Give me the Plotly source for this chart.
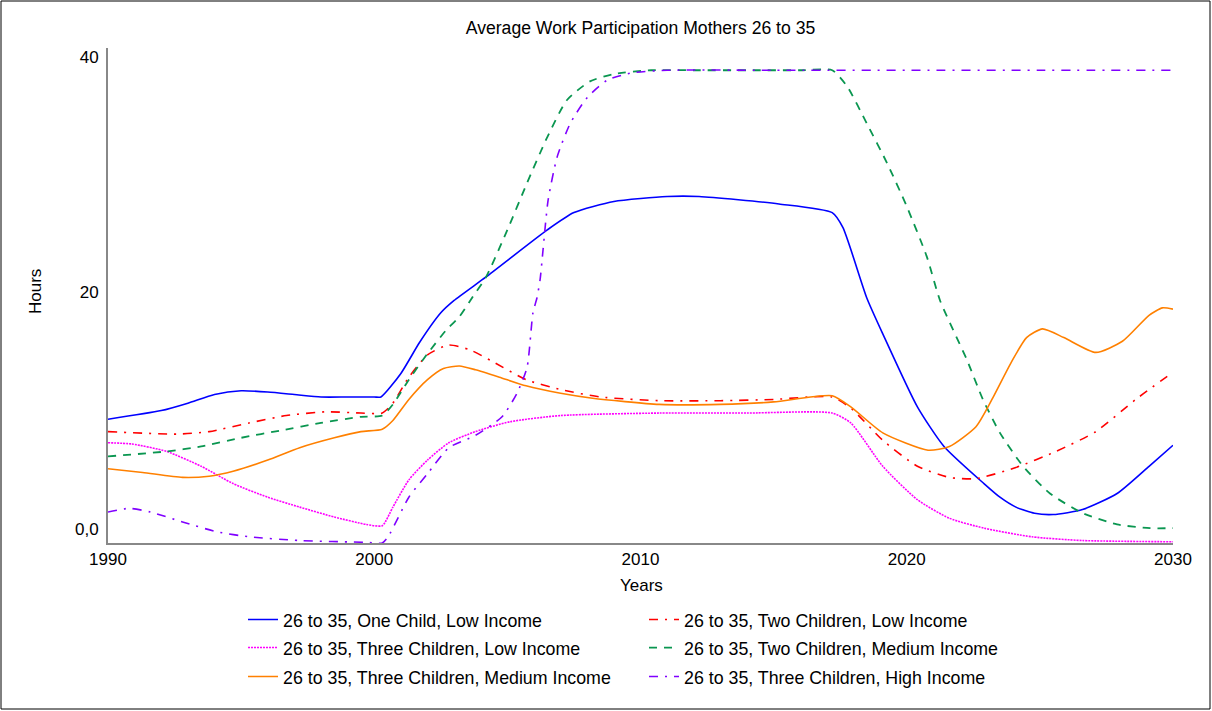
import plotly.graph_objects as go

# ---- data (years, hours) ----
blue_x = [1990, 1992, 1993, 1994, 1995, 1996, 1997, 1998, 1999, 2000, 2000.25, 2001, 2001.7, 2002.5, 2003,
          2004.2, 2006.5, 2007.5, 2009, 2011, 2012.2, 2015.2, 2017.2, 2017.6, 2018.5, 2019.1, 2020.4,
          2021.4, 2022.9, 2023.5, 2024.1, 2024.8, 2025.5, 2026.6, 2027.9, 2029.1, 2030]
blue_y = [10.0, 10.7, 11.3, 12.0, 12.3, 12.2, 12.0, 11.8, 11.8, 11.8, 11.8, 13.7, 16.2, 18.6, 19.6,
          21.5, 25.3, 26.7, 27.6, 28.0, 28.0, 27.4, 26.7, 25.5, 19.8, 16.9, 11.0,
          7.8, 4.8, 3.7, 2.9, 2.4, 2.3, 2.7, 4.0, 6.2, 7.9]

red_x = [1990, 1992.6, 1993.8, 1995.3, 1996.7, 1998.2, 1999.5, 2000.3, 2000.7, 2001.3, 2002.0, 2002.8, 2003.6,
         2004.5, 2005.7, 2007.0, 2008.5, 2010.7, 2013, 2015, 2017.2, 2017.9, 2019.1, 2020.4, 2021.6, 2022.6,
         2024.1, 2025.6, 2027.1, 2028.6, 2030]
red_y = [9.0, 8.8, 9.0, 9.7, 10.3, 10.6, 10.5, 10.5, 11.3, 13.4, 15.2, 16.0, 15.6,
         14.6, 13.2, 12.4, 11.8, 11.5, 11.5, 11.6, 11.8, 10.9, 8.3, 6.2, 5.3, 5.2,
         6.1, 7.4, 9.0, 11.6, 13.8]

magenta_x = [1990, 1990.9, 1992.2, 1993.5, 1994.7, 1996.0, 1997.2, 1998.5, 1999.7, 2000.3, 2000.7, 2001.3,
             2002.0, 2002.8, 2003.8, 2005.1, 2007.0, 2010.7, 2014, 2017.2, 2017.9, 2019.1, 2020.4, 2021.6,
             2022.9, 2024.7, 2026.6, 2030]
magenta_y = [8.1, 8.0, 7.4, 6.2, 4.8, 3.7, 2.9, 2.1, 1.5, 1.4, 2.9, 5.1,
             6.7, 8.1, 9.0, 9.8, 10.3, 10.5, 10.5, 10.5, 9.7, 6.2, 3.5, 2.0,
             1.2, 0.5, 0.2, 0.1]

green_x = [1990, 1992.2, 1993.5, 1995, 1996.5, 1998, 1999.5, 2000.3, 2000.7, 2001.3, 2002.0, 2002.7, 2003.2,
           2003.7, 2004.2, 2005.0, 2005.74, 2006.5, 2007.24, 2008.1, 2009.0, 2010.4, 2012, 2014, 2016, 2017.2,
           2017.76, 2018.5, 2019.26, 2020.0, 2020.76, 2021.25, 2022.26, 2022.86, 2023.5, 2024.37, 2025.38,
           2026.62, 2027.9, 2029.14, 2030]
green_y = [7.0, 7.4, 7.8, 8.5, 9.1, 9.7, 10.2, 10.3, 11.2, 13.2, 15.3, 17.2, 18.3,
           19.9, 21.5, 25.3, 29.1, 32.8, 35.8, 37.3, 37.9, 38.2, 38.2, 38.2, 38.2, 38.2,
           36.9, 33.9, 30.7, 27.2, 23.1, 19.6, 14.8, 11.6, 8.9, 6.2, 4.0,
           2.4, 1.5, 1.2, 1.2]

orange_x = [1990, 1991.3, 1992.8, 1993.8, 1994.7, 1996.0, 1997.2, 1998.5, 1999.5, 2000.3, 2000.7, 2001.3,
            2002.0, 2002.6, 2003.2, 2003.8, 2004.7, 2005.7, 2007.0, 2008.2, 2010.7, 2013, 2015, 2017.2, 2017.9,
            2019.1, 2020.8, 2021.6, 2022.6, 2023.2, 2023.9, 2024.5, 2025.1, 2025.9, 2027.1, 2028.1, 2029.1,
            2029.6, 2030]
orange_y = [6.0, 5.7, 5.3, 5.4, 5.8, 6.7, 7.7, 8.5, 9.0, 9.2, 9.9, 11.6,
            13.2, 14.1, 14.3, 14.0, 13.4, 12.7, 12.1, 11.7, 11.2, 11.2, 11.4, 11.9, 11.0,
            8.9, 7.5, 7.8, 9.4, 11.6, 14.5, 16.6, 17.3, 16.6, 15.4, 16.3, 18.4,
            19.0, 18.9]

purple_x = [1990, 1990.8, 1991.6, 1992.8, 1994.1, 1995.3, 1997.2, 1999.7, 2000.3, 2000.52, 2001.3, 2002.0,
            2002.8, 2003.8, 2004.8, 2005.36, 2005.74, 2005.96, 2006.11, 2006.23, 2006.34, 2006.53, 2006.87,
            2007.36, 2008.0, 2008.75, 2009.7, 2011, 2015, 2020, 2025, 2030]
purple_y = [2.5, 2.8, 2.5, 1.7, 0.9, 0.5, 0.2, 0.05, 0.0, 0.5, 3.7, 5.6,
            7.7, 8.7, 10.2, 12.1, 14.2, 18.6, 19.8, 21.3, 23.7, 27.7, 31.2,
            33.9, 36.0, 37.4, 38.0, 38.2, 38.2, 38.2, 38.2, 38.2]

x_ticks = [1990, 2000, 2010, 2020, 2030]
x_tick_text = ["1990", "2000", "2010", "2020", "2030"]
y_tick_pos = [1.15, 20.3, 39.3]
y_tick_text = ["0,0", "20", "40"]

FONT = "Liberation Sans, Arial, sans-serif"

series = [
    ("26 to 35, One Child, Low Income", blue_x, blue_y, "#0000ff", "solid", 1.6, "legend"),
    ("26 to 35, Two Children, Low Income", red_x, red_y, "#ff0000", "9px,7px,2px,7px", 1.6, "legend"),
    ("26 to 35, Three Children, Low Income", magenta_x, magenta_y, "#ff00ff", "2px,1px", 1.6, "legend2"),
    ("26 to 35, Two Children, Medium Income", green_x, green_y, "#0a9650", "8px,7px", 1.8, "legend2"),
    ("26 to 35, Three Children, Medium Income", orange_x, orange_y, "#ff8000", "solid", 1.6, "legend3"),
    ("26 to 35, Three Children, High Income", purple_x, purple_y, "#8000ff", "9px,7px,2px,7px", 1.6, "legend3"),
]

fig = go.Figure()
for name, xs, ys, col, dash, w, lg in series:
    fig.add_trace(go.Scatter(
        x=xs, y=ys, name=name, mode="lines", legend=lg,
        line=dict(color=col, dash=dash, width=w, shape="spline", smoothing=0.6),
    ))

PW, PH = 1065, 495


def row_legend(row_center_px):
    return dict(orientation="h", x=(243 - 108) / PW, xanchor="left",
                y=(543 - row_center_px) / PH, yanchor="middle",
                entrywidth=356, entrywidthmode="pixels", font=dict(size=17.8),
                traceorder="normal", itemwidth=30, bgcolor="rgba(0,0,0,0)")


fig.update_layout(
    width=1212, height=711,
    paper_bgcolor="white", plot_bgcolor="white",
    margin=dict(l=108, r=39, t=48, b=168),
    font=dict(family=FONT, size=17, color="black"),
    title=dict(text="Average Work Participation Mothers 26 to 35", x=0.5, xref="paper",
               y=1 - 28 / 711, yanchor="middle", font=dict(size=17.6)),
    showlegend=True,
    legend=row_legend(620),
    legend2=row_legend(648),
    legend3=row_legend(677),
    xaxis=dict(range=[1990, 2030], tickvals=x_ticks, ticktext=x_tick_text, showgrid=False,
               zeroline=False, showline=True, linecolor="#888888", linewidth=2, ticks="",
               tickfont=dict(size=17)),
    yaxis=dict(range=[0, 40], tickvals=y_tick_pos, ticktext=y_tick_text, showgrid=False,
               zeroline=False, showline=True, linecolor="#888888", linewidth=2, ticks="",
               tickfont=dict(size=17), ticklabelstandoff=4),
    annotations=[
        dict(text="Hours", xref="paper", yref="paper", x=(35 - 108) / PW, y=(543 - 292) / PH,
             textangle=-90, showarrow=False, font=dict(size=17), xanchor="center", yanchor="middle"),
        dict(text="Years", xref="paper", yref="paper", x=(641 - 108) / PW, y=(543 - 585) / PH,
             showarrow=False, font=dict(size=17), xanchor="center", yanchor="middle"),
    ],
    shapes=[
        dict(type="rect", xref="paper", yref="paper",
             x0=(1 - 108) / PW, x1=(1210 - 108) / PW,
             y0=(543 - 709) / PH, y1=(543 - 1) / PH,
             line=dict(color="black", width=1), fillcolor="rgba(0,0,0,0)", layer="below"),
    ],
)

fig.write_html("out.html", config={"displayModeBar": False},
               post_script="document.body.style.margin='0px';")
